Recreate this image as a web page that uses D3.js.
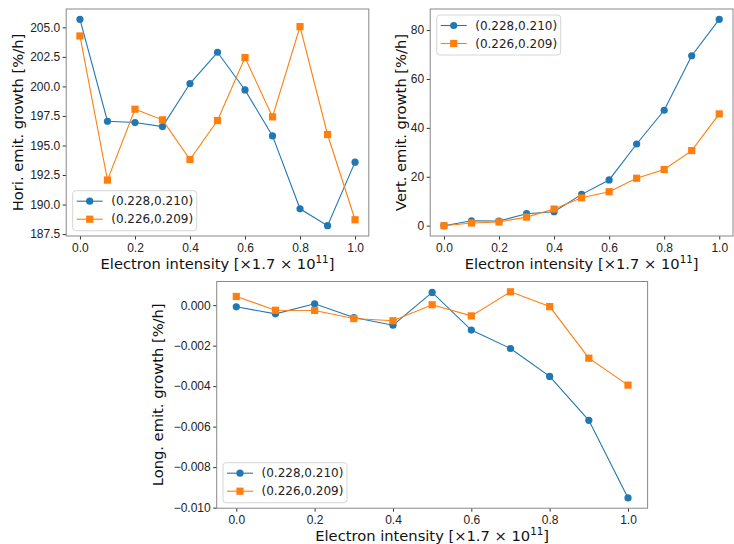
<!DOCTYPE html>
<html>
<head>
<meta charset="utf-8">
<script src="https://cdn.jsdelivr.net/npm/d3@7"></script>
<style>
  body { margin: 0; background: #fff; }
  svg { display: block; font-family: 'DejaVu Sans', sans-serif; }
  .tick text { font-size: 12px; fill: #222; }
  .tick line { stroke: #333; }
  .domain { display: none; }
</style>
</head>
<body>
<div id="chart"></div>
<script>
// electron intensity (x) shared by all three panels
var intensity = [0.0, 0.1, 0.2, 0.3, 0.4, 0.5, 0.6, 0.7, 0.8, 0.9, 1.0]
var xTicks = [0.0, 0.2, 0.4, 0.6, 0.8, 1.0]
var seriesNames = ['(0.228,0.210)', '(0.226,0.209)']

// horizontal emittance growth [%/h]
var horiA = [205.68, 197.05, 196.94, 196.6, 200.24, 202.89, 199.7, 195.81, 189.64, 188.21, 193.59]
var horiB = [204.27, 192.07, 198.07, 197.17, 193.81, 197.11, 202.44, 197.42, 205.06, 195.93, 188.71]
var horiTicks = [187.5, 190.0, 192.5, 195.0, 197.5, 200.0, 202.5, 205.0]

// vertical emittance growth [%/h]
var vertA = [0.0, 2.0, 1.9, 4.9, 5.7, 12.8, 18.7, 33.4, 47.2, 69.5, 84.4]
var vertB = [0.0, 1.1, 1.5, 3.5, 6.8, 11.4, 13.9, 19.4, 23.0, 30.7, 45.7]
var vertTicks = [0, 20, 40, 60, 80]

// longitudinal emittance growth [%/h]
var longA = [-0.00008, -0.00043, 0.00007, -0.00061, -0.00099, 0.00063, -0.00123, -0.00214, -0.00352, -0.00569, -0.00952]
var longB = [0.00043, -0.00025, -0.00026, -0.00066, -0.00077, 0.00002, -0.00053, 0.00066, -0.00007, -0.00262, -0.00395]
var longTicks = [-0.010, -0.008, -0.006, -0.004, -0.002, 0.000]

var blue = '#1f77b4', orange = '#ff7f0e'

var svg = d3.select('#chart').append('svg')
  .attr('width', 734)
  .attr('height', 544)

function padded (arr) {
  var lo = d3.min(arr), hi = d3.max(arr), p = (hi - lo) * 0.05
  return [lo - p, hi + p]
}

function panel (o) {
  var g = svg.append('g')

  var x = d3.scaleLinear().domain([-0.05, 1.05]).range([o.left, o.right])
  var y = d3.scaleLinear().domain(padded(o.a.concat(o.b))).range([o.bottom, o.top])

  g.append('g')
    .attr('transform', 'translate(0,' + o.bottom + ')')
    .call(d3.axisBottom(x).tickValues(xTicks).tickFormat(d3.format('.1f')).tickSize(3.5).tickPadding(3.5))

  g.append('g')
    .attr('transform', 'translate(' + o.left + ',0)')
    .call(d3.axisLeft(y).tickValues(o.yTicks).tickFormat(o.yFormat).tickSize(3.5).tickPadding(2.5))

  g.append('rect')
    .attr('x', o.left).attr('y', o.top)
    .attr('width', o.right - o.left).attr('height', o.bottom - o.top)
    .attr('fill', 'none').attr('stroke', '#888').attr('stroke-width', 1)

  var line = d3.line().x((d, i) => x(intensity[i])).y(d => y(d))

  ;[[o.a, blue, 'circle'], [o.b, orange, 'square']].forEach(function (s) {
    g.append('path')
      .attr('d', line(s[0]))
      .attr('fill', 'none').attr('stroke', s[1]).attr('stroke-width', 1.1)
    if (s[2] === 'circle') {
      g.selectAll(null).data(s[0]).enter().append('circle')
        .attr('cx', (d, i) => x(intensity[i]))
        .attr('cy', d => y(d))
        .attr('r', 3.6)
        .attr('fill', s[1])
    } else {
      g.selectAll(null).data(s[0]).enter().append('rect')
        .attr('x', (d, i) => x(intensity[i]) - 3.6)
        .attr('y', d => y(d) - 3.6)
        .attr('width', 7.2).attr('height', 7.2)
        .attr('fill', s[1])
    }
  })

  // x label
  var xl = g.append('text')
    .attr('x', (o.left + o.right) / 2)
    .attr('y', o.bottom + 28)
    .attr('dy', '0.35em')
    .attr('text-anchor', 'middle')
    .attr('font-size', 14.7)
    .attr('fill', '#111')
  xl.append('tspan').text('Electron intensity [\u00d71.7 \u00d7 10')
  xl.append('tspan').attr('dy', -6).attr('font-size', 10.3).text('11')
  xl.append('tspan').attr('dy', 6).text(']')

  // y label
  g.append('text')
    .attr('transform', 'translate(' + (o.left - o.yLabelOffset) + ',' + (o.top + o.bottom) / 2 + ') rotate(-90)')
    .attr('dy', '0.35em')
    .attr('text-anchor', 'middle')
    .attr('font-size', 14.7)
    .attr('fill', '#111')
    .text(o.yLabel)

  // legend
  var lx = o.legend[0], ly = o.legend[1]
  var leg = g.append('g').attr('transform', 'translate(' + lx + ',' + ly + ')')
  leg.append('rect')
    .attr('width', 124).attr('height', 40).attr('rx', 3)
    .attr('fill', 'rgba(255,255,255,0.8)').attr('stroke', '#d6d6d6')
  ;[[blue, 'circle'], [orange, 'square']].forEach(function (s, i) {
    var cy = 10.5 + i * 18
    leg.append('line').attr('x1', 4).attr('x2', 30).attr('y1', cy).attr('y2', cy)
      .attr('stroke', s[0]).attr('stroke-width', 1.1)
    if (s[1] === 'circle') {
      leg.append('circle').attr('cx', 17).attr('cy', cy).attr('r', 3.6).attr('fill', s[0])
    } else {
      leg.append('rect').attr('x', 13.4).attr('y', cy - 3.6).attr('width', 7.2).attr('height', 7.2).attr('fill', s[0])
    }
    leg.append('text').attr('x', 38.5).attr('y', cy).attr('dy', '0.35em')
      .attr('font-size', 12).attr('fill', '#222').text(seriesNames[i])
  })
}

panel({
  left: 66.2, right: 368.8, top: 9, bottom: 236,
  a: horiA, b: horiB, yTicks: horiTicks, yFormat: d3.format('.1f'),
  yLabel: 'Hori. emit. growth [%/h]', yLabelOffset: 48,
  legend: [72.7, 190.7]
})

panel({
  left: 430.2, right: 733, top: 9, bottom: 236,
  a: vertA, b: vertB, yTicks: vertTicks, yFormat: d3.format('d'),
  yLabel: 'Vert. emit. growth [%/h]', yLabelOffset: 29.5,
  legend: [436.7, 15]
})

panel({
  left: 216.7, right: 647.6, top: 281.5, bottom: 508.2,
  a: longA, b: longB, yTicks: longTicks, yFormat: d3.format('.3f'),
  yLabel: 'Long. emit. growth [%/h]', yLabelOffset: 58.4,
  legend: [223, 462.7]
})
</script>
</body>
</html>
